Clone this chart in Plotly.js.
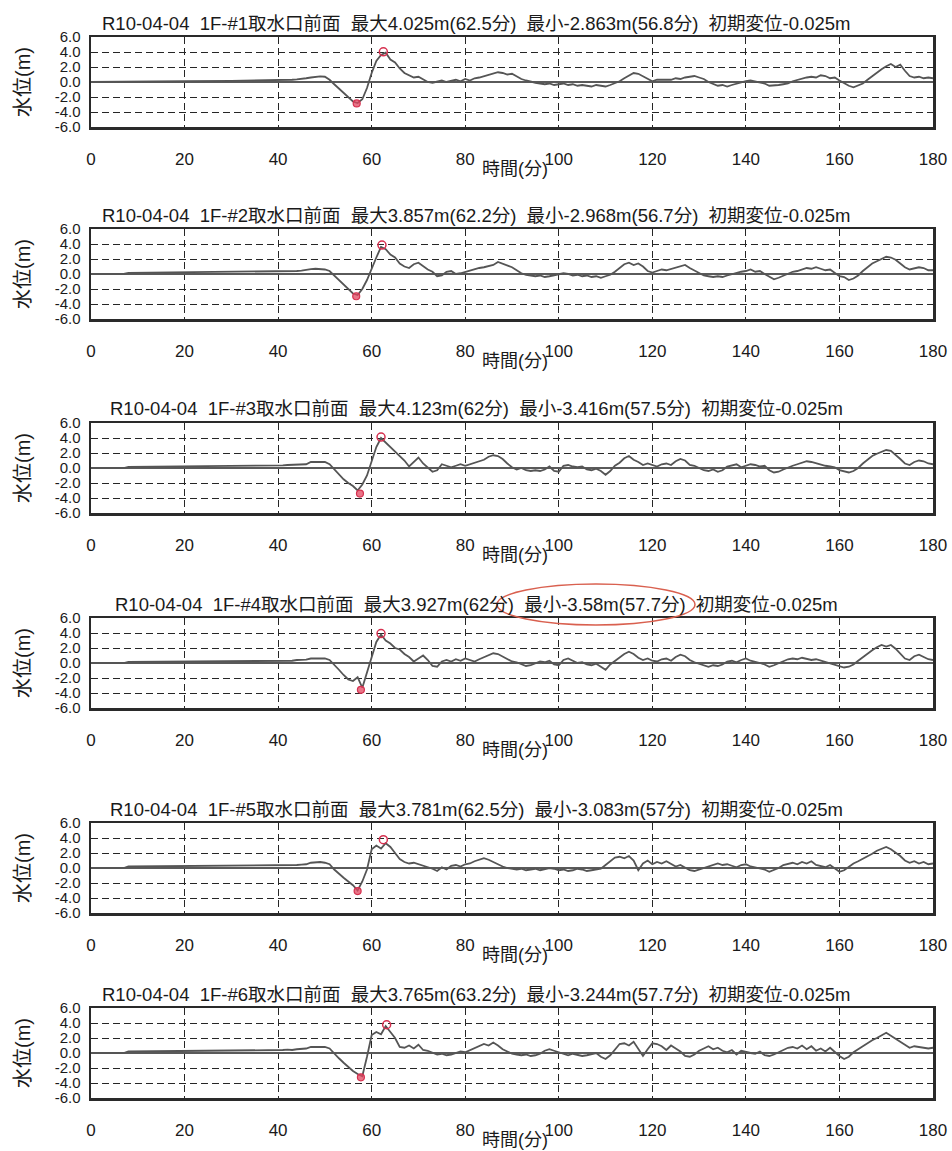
<!DOCTYPE html>
<html>
<head>
<meta charset="utf-8">
<script src="https://cdn.plot.ly/plotly-3.0.1.min.js"></script>
<style>
  html, body { margin: 0; padding: 0; background: #ffffff; }
  #chart { width: 952px; height: 1151px; }
</style>
</head>
<body>
<div id="chart"></div>
<script>
// ---------------- DATA ----------------
const gauges = ["1F-#1取水口前面", "1F-#2取水口前面", "1F-#3取水口前面", "1F-#4取水口前面", "1F-#5取水口前面", "1F-#6取水口前面"];
const caseName = "R10-04-04";
const maxLevel = [4.025, 3.857, 4.123, 3.927, 3.781, 3.765];
const maxTime  = [62.5, 62.2, 62, 62, 62.5, 63.2];
const minLevel = [-2.863, -2.968, -3.416, -3.58, -3.083, -3.244];
const minTime  = [56.8, 56.7, 57.5, 57.7, 57, 57.7];
const initialDisp = [-0.025, -0.025, -0.025, -0.025, -0.025, -0.025];

const xTicks = [0, 20, 40, 60, 80, 100, 120, 140, 160, 180];
const yTicks = [-6, -4, -2, 0, 2, 4, 6];
const yTickText = ["-6.0", "-4.0", "-2.0", "0.0", "2.0", "4.0", "6.0"];

// early part (minutes 0-39)
const preTime = [0, 7, 8, 20, 30, 39];
const pre1 = [0.0, 0.0, 0.05, 0.1, 0.15, 0.2];
const pre2 = [0.0, 0.0, 0.15, 0.2, 0.25, 0.3];
const pre3 = [0.0, 0.0, 0.15, 0.2, 0.25, 0.3];
const pre4 = [0.0, 0.0, 0.15, 0.2, 0.25, 0.3];
const pre5 = [0.0, 0.0, 0.2, 0.25, 0.25, 0.3];
const pre6 = [0.0, 0.0, 0.2, 0.25, 0.3, 0.4];

// minute-by-minute water level, minutes 40..180
const level1 = [
  0.2, 0.25, 0.3, 0.3, 0.35, 0.4, 0.5, 0.6, 0.7, 0.75,
  0.7, 0.3, -0.3, -0.9, -1.5, -2.1, -2.6, -2.8, -2.3, -0.8,
  1.2, 2.8, 3.6, 3.9, 3.0, 2.6, 1.8, 1.2, 0.9, 0.6,
  0.7, 0.3, 0.0, -0.1, 0.1, 0.2, 0.0, 0.2, 0.3, 0.1,
  0.4, 0.2, 0.5, 0.6, 0.8, 1.0, 1.1, 1.3, 1.2, 1.0,
  1.1, 0.7, 0.4, 0.2, 0.0, -0.1, -0.2, -0.3, -0.2, -0.4,
  -0.3, -0.2, -0.4, -0.3, -0.5, -0.4, -0.5, -0.6, -0.4, -0.5,
  -0.6, -0.4, -0.2, 0.1, 0.5, 0.9, 1.2, 1.1, 0.8, 0.4,
  0.1, 0.3, 0.3, 0.4, 0.3, 0.5, 0.4, 0.6, 0.7, 0.8,
  0.6, 0.4, 0.0, -0.3, -0.5, -0.4, -0.6, -0.4, -0.2, -0.1,
  0.1, 0.2, 0.1, 0.0, -0.2, -0.5, -0.5, -0.4, -0.3, -0.2,
  0.1, 0.3, 0.4, 0.6, 0.7, 0.6, 0.9, 0.8, 0.5, 0.6,
  0.2, -0.2, -0.5, -0.7, -0.5, -0.2, 0.3, 0.8, 1.3, 1.7,
  2.1, 2.4, 2.0, 2.3, 1.5, 0.8, 0.6, 0.7, 0.5, 0.6,
  0.5
];
const level2 = [
  0.3, 0.3, 0.35, 0.3, 0.4, 0.45, 0.6, 0.65, 0.7, 0.7,
  0.6, 0.4, -0.2, -0.8, -1.4, -2.0, -2.6, -2.8, -2.0, -0.8,
  0.8, 2.2, 3.6, 3.3, 2.6, 2.2, 1.4, 1.0, 0.8, 1.3,
  1.5, 1.0, 0.6, 0.3, -0.3, -0.2, 0.3, 0.4, 0.0, 0.1,
  0.3, 0.5, 0.6, 0.8, 0.9, 1.1, 1.2, 1.6, 1.4, 1.2,
  0.9, 0.5, 0.1, -0.1, -0.2, -0.3, -0.2, -0.4, -0.3, -0.2,
  -0.1, 0.1, 0.0, -0.2, -0.1, -0.3, -0.2, -0.4, -0.3, -0.5,
  -0.3, -0.1, 0.3, 0.8, 1.3, 1.5, 1.2, 1.4, 1.0, 0.4,
  0.2, 0.4, 0.6, 0.5, 0.7, 0.9, 1.0, 1.2, 0.8, 0.5,
  0.2, -0.2, -0.3, -0.4, -0.3, -0.4, -0.2, 0.0, 0.2, 0.3,
  0.4, 0.6, 0.3, 0.4, 0.0, -0.4, -0.7, -0.5, -0.2, 0.0,
  0.3, 0.4, 0.6, 0.8, 0.7, 0.9, 0.7, 0.5, 0.6, 0.2,
  -0.3, -0.4, -0.8, -0.6, -0.2, 0.4, 0.9, 1.4, 1.7, 2.0,
  2.3, 2.2, 1.9, 1.4, 0.9, 0.6, 0.7, 0.9, 0.8, 0.5,
  0.5
];
const level3 = [
  0.3, 0.35, 0.4, 0.4, 0.45, 0.5, 0.5, 0.8, 0.8, 0.8,
  0.8, 0.5, -0.2, -0.9, -1.5, -2.0, -2.4, -3.0, -2.2, -1.0,
  1.0, 2.8, 4.0, 3.4, 2.8, 2.2, 1.6, 1.0, 0.2, 0.8,
  1.4, 0.6, 0.1, -0.5, -0.3, 0.5, 0.3, 0.1, 0.3, 0.5,
  0.3, 0.5, 0.7, 0.9, 1.1, 1.5, 1.7, 1.6, 1.2, 0.6,
  0.1, -0.2, 0.0, -0.3, -0.4, -0.3, -0.4, -0.2, 0.2, -0.4,
  -0.5, 0.3, 0.4, 0.2, 0.1, 0.2, -0.2, -0.3, -0.1, -0.4,
  -0.9, -0.4, 0.3, 0.7, 1.3, 1.6, 1.1, 0.8, 0.4, 0.6,
  0.4, 0.2, 0.5, 0.6, 0.4, 0.9, 1.2, 1.0, 0.4, 0.3,
  0.0, -0.3, -0.4, -0.2, -0.5, -0.3, 0.2, 0.3, 0.5, 0.1,
  0.3, 0.5, 0.4, 0.2, 0.3, -0.3, -0.6, -0.5, -0.2, 0.1,
  0.3, 0.5, 0.7, 0.9, 0.8, 0.6, 0.4, 0.3, 0.2, 0.1,
  -0.3, -0.5, -0.6, -0.4, 0.0, 0.6, 1.1, 1.6, 1.9, 2.2,
  2.4, 2.3, 1.8, 1.2, 0.6, 0.4, 0.8, 1.0, 0.9, 0.6,
  0.5
];
const level4 = [
  0.3, 0.3, 0.35, 0.3, 0.4, 0.4, 0.45, 0.6, 0.6, 0.6,
  0.6, 0.4, -0.2, -0.9, -1.6, -2.2, -2.4, -1.9, -3.3, -1.2,
  1.0, 2.8, 3.8, 3.0, 2.6, 2.0, 1.8, 1.2, 0.8, 0.2,
  0.6, 1.0, 0.4, -0.4, -0.5, 0.2, 0.4, 0.2, 0.5, 0.3,
  0.6, 0.4, 0.2, 0.5, 0.8, 1.1, 1.3, 1.2, 0.9, 0.5,
  0.2, 0.1, -0.2, -0.4, -0.3, -0.1, 0.2, 0.1, 0.3, -0.2,
  -0.3, 0.4, 0.6, 0.3, 0.0, 0.1, -0.2, -0.3, -0.1, -0.5,
  -0.9, -0.2, 0.3, 0.8, 1.2, 1.5, 1.2, 0.7, 0.4, 0.6,
  0.3, 0.2, 0.5, 0.6, 0.3, 0.8, 1.1, 0.9, 0.4, 0.1,
  -0.1, -0.4, -0.5, -0.3, -0.4, -0.2, 0.2, 0.3, 0.1, 0.4,
  0.6, 0.3, 0.2, 0.0, -0.2, -0.5, -0.3, 0.0, 0.3, 0.5,
  0.6, 0.5, 0.7, 0.6, 0.4, 0.5, 0.3, 0.1, -0.1, -0.2,
  -0.4, -0.6, -0.5, -0.2, 0.3, 0.8, 1.3, 1.7, 2.1, 2.4,
  2.2, 2.4, 1.9, 1.2, 0.6, 0.4, 0.9, 1.1, 0.8, 0.5,
  0.4
];
const level5 = [
  0.3, 0.3, 0.35, 0.35, 0.4, 0.45, 0.5, 0.7, 0.75, 0.8,
  0.7, 0.5, -0.2, -0.8, -1.3, -1.8, -2.3, -3.0, -1.8, -0.2,
  2.5, 3.0, 2.6, 3.3, 2.8, 2.0, 1.2, 0.8, 0.6, 0.7,
  0.5, 0.4, 0.2, -0.1, -0.4, 0.1, -0.2, 0.3, 0.4, 0.2,
  0.5, 0.6, 0.9, 1.1, 1.3, 1.1, 0.8, 0.4, 0.2, 0.0,
  -0.1, -0.2, -0.1, -0.3, -0.2, -0.1, -0.3, -0.2, 0.0, -0.1,
  -0.3, -0.2, -0.4, -0.3, -0.1, -0.2, -0.4, -0.3, -0.2, -0.1,
  0.4, 0.9, 1.4, 1.5, 1.3, 1.6, 1.0, -0.3, 0.6, 1.0,
  0.5, 0.8, 0.6, 0.9, 0.5, 0.2, 0.4, 0.0, -0.3, -0.4,
  -0.2, 0.0, 0.3, 0.4, 0.6, 0.4, 0.5, 0.3, 0.1, 0.4,
  0.5, 0.2, 0.1, 0.0, -0.2, -0.5, -0.3, 0.0, 0.4, 0.6,
  0.7, 0.5, 0.8, 0.6, 0.9, 0.4, 0.3, 0.1, 0.4, -0.1,
  -0.5, -0.3, 0.2, 0.6, 0.9, 1.2, 1.5, 1.9, 2.3, 2.6,
  2.8, 2.5, 2.1, 1.6, 1.0, 0.7, 0.9, 0.6, 0.8, 0.5,
  0.6
];
const level6 = [
  0.4, 0.4, 0.45, 0.4, 0.5, 0.5, 0.6, 0.8, 0.8, 0.8,
  0.8, 0.6, -0.1, -0.7, -1.3, -1.9, -2.4, -2.8, -3.1, -0.5,
  2.4, 2.8, 2.5, 3.6, 2.8, 2.0, 0.8, 0.7, 1.0, 0.6,
  1.1, 0.4, 0.3, 0.0, -0.2, -0.1, -0.3, -0.2, 0.0, 0.2,
  0.1, 0.4, 0.6, 0.9, 1.2, 1.0, 1.4, 1.0, 0.5, 0.2,
  -0.1, -0.2, -0.3, -0.2, -0.4, -0.3, -0.1, 0.3, 0.5, 0.3,
  0.1, -0.2, -0.3, -0.1, -0.2, -0.4, -0.3, -0.2, 0.0, -0.5,
  -0.8, -0.3, 0.4, 1.2, 1.3, 1.0, 1.5, 0.6, -0.4, 0.5,
  1.3, 1.2, 0.9, 0.4, 1.0, 0.6, 0.2, -0.4, -0.5, -0.2,
  0.3, 0.6, 0.9, 0.5, 0.7, 0.3, 0.1, 0.4, -0.2, 0.3,
  0.1, 0.0, -0.1, 0.2, -0.3, -0.4, -0.2, 0.1, 0.4, 0.7,
  0.8, 0.6, 1.0, 0.5, 0.9, 0.3, 0.6, 0.2, 0.7, 0.1,
  -0.4, -0.8, -0.5, 0.1, 0.5, 0.9, 1.4, 1.7, 2.0, 2.4,
  2.7, 2.3, 1.9, 1.4, 1.0, 0.7, 0.9, 0.8, 0.7, 0.6,
  0.7
];

// ---------------- BUILD ----------------
const preSeries = [pre1, pre2, pre3, pre4, pre5, pre6];
const mainSeries = [level1, level2, level3, level4, level5, level6];
const minutes = [];
for (let m = 40; m <= 180; m++) minutes.push(m);
const timeAxis = preTime.concat(minutes);

const W = 952, H = 1151;
const plotLeft = 91, plotRight = 933;
const plotTops = [37, 229, 423, 618, 823, 1008];
const plotH = 90;
const FONT = 'Liberation Sans, "Noto Sans CJK JP", sans-serif';
const TXT = '#1a1a1a';
const NB = '\u00a0\u00a0';

const px2paperY = py => 1 - py / H;
const px2paperX = px => (px - plotLeft) / (plotRight - plotLeft);

const data = [];
const layout = {
  width: W, height: H,
  margin: {l: plotLeft, r: W - plotRight, t: 0, b: 0},
  paper_bgcolor: '#ffffff', plot_bgcolor: '#ffffff',
  showlegend: false,
  font: {family: FONT, color: TXT},
  annotations: [],
  shapes: []
};

for (let i = 0; i < 6; i++) {
  const n = i + 1;
  const xa = n === 1 ? 'x' : 'x' + n;
  const ya = n === 1 ? 'y' : 'y' + n;
  const top = plotTops[i];
  const bottom = top + plotH;

  data.push({
    x: timeAxis, y: preSeries[i].concat(mainSeries[i]),
    xaxis: xa, yaxis: ya, type: 'scatter', mode: 'lines',
    line: {color: '#555555', width: 1.8}, hoverinfo: 'skip'
  });
  data.push({
    x: [minTime[i]], y: [minLevel[i]], xaxis: xa, yaxis: ya,
    type: 'scatter', mode: 'markers',
    marker: {symbol: 'circle', size: 7, color: 'rgba(225,70,95,0.75)', line: {color: '#d6304f', width: 1.2}}
  });
  data.push({
    x: [maxTime[i]], y: [maxLevel[i]], xaxis: xa, yaxis: ya,
    type: 'scatter', mode: 'markers',
    marker: {symbol: 'circle-open', size: 8, color: '#d6304f', line: {color: '#d6304f', width: 1.5}}
  });

  const common = {
    showline: true, mirror: true, linecolor: '#2a2a2a', linewidth: 2.5,
    showgrid: true, gridcolor: '#262626', gridwidth: 1, griddash: '7px,4px',
    ticks: '', fixedrange: true
  };
  layout['xaxis' + (n === 1 ? '' : n)] = Object.assign({}, common, {
    domain: [0, 1], anchor: ya, range: [0, 180],
    tickmode: 'array', tickvals: xTicks, ticktext: xTicks.map(String),
    zeroline: false, ticklabelstandoff: 15,
    tickfont: {family: FONT, size: 17, color: TXT}
  });
  layout['yaxis' + (n === 1 ? '' : n)] = Object.assign({}, common, {
    domain: [px2paperY(bottom), px2paperY(top)], anchor: xa, range: [-6, 6],
    tickmode: 'array', tickvals: yTicks, ticktext: yTickText,
    zeroline: true, zerolinecolor: '#5a5a5a', zerolinewidth: 1.5,
    ticklabelstandoff: 5,
    tickfont: {family: FONT, size: 15, color: TXT}
  });

  const title = caseName + NB + gauges[i] + NB + '最大' + maxLevel[i] + 'm(' + maxTime[i] + '分)' + NB +
    '最小' + minLevel[i] + 'm(' + minTime[i] + '分)' + NB + '初期変位' + initialDisp[i] + 'm';
  layout.annotations.push({
    text: title, xref: 'paper', yref: 'paper',
    x: px2paperX(476), y: px2paperY(top - 14),
    xanchor: 'center', yanchor: 'middle', showarrow: false,
    font: {family: FONT, size: 18.5, color: TXT}
  });
  layout.annotations.push({
    text: '時間(分)', xref: 'paper', yref: 'paper',
    x: px2paperX(515), y: px2paperY(bottom + 42),
    xanchor: 'center', yanchor: 'middle', showarrow: false,
    font: {family: FONT, size: 18, color: TXT}
  });
  layout.annotations.push({
    text: '水位(m)', xref: 'paper', yref: 'paper',
    x: px2paperX(23), y: px2paperY(top + plotH / 2),
    xanchor: 'center', yanchor: 'middle', showarrow: false, textangle: -90,
    font: {family: FONT, size: 20, color: TXT}
  });
}

// hand-drawn red ellipse around the #4 minimum
layout.shapes.push({
  type: 'circle', xref: 'paper', yref: 'paper',
  x0: px2paperX(497), x1: px2paperX(695),
  y0: px2paperY(625), y1: px2paperY(584),
  line: {color: '#d9604f', width: 1.5}
});

Plotly.newPlot('chart', data, layout, {displayModeBar: false, staticPlot: true});
</script>
</body>
</html>
